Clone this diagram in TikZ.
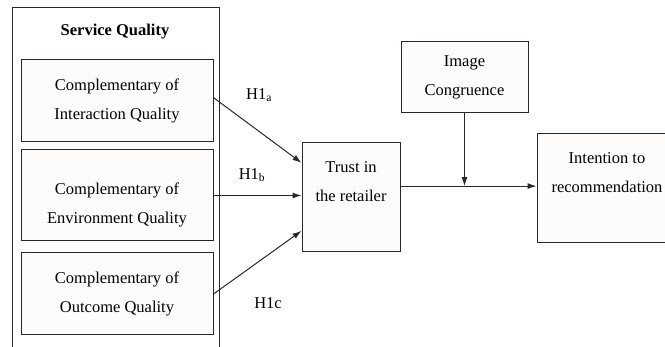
\documentclass[tikz,border=0pt]{standalone}
\usepackage{fontspec}
\setmainfont{Liberation Serif}
\usetikzlibrary{arrows.meta}
\definecolor{plantucolor0001}{RGB}{40,40,40}
\definecolor{plantucolor0002}{RGB}{253,252,250}
\begin{document}
\begin{tikzpicture}[yscale=-1
            ,pstyle0/.style={draw=plantucolor0001,fill=plantucolor0002,line width=1.0pt,inner sep=0pt}
            ,pstyle1/.style={color=plantucolor0001,line width=1.0pt}
            ,pstyle2/.style={color=plantucolor0001,line width=1.0pt,-{Latex[length=9pt,width=6pt]}}
            ,ptext/.style={align=center,text=black,font=\fontsize{16.5}{29}\selectfont}
        ]
        \useasboundingbox (0pt,0pt) rectangle (665pt,347pt);
        \draw[pstyle1] (12pt,350pt) -- (12pt,8pt) -- (219pt,8pt) -- (219pt,350pt);
        \node[ptext,font=\fontsize{16.5}{29}\selectfont\bfseries] (servq) at (115pt,32pt) {Service Quality};
        \node[pstyle0,ptext,minimum width=192pt,minimum height=82pt] (interq) at (117pt,101pt) {Complementary of\\Interaction Quality};
        \node[pstyle0,ptext,minimum width=192pt,minimum height=91pt] (envq) at (117pt,195.5pt) {};
        \node[ptext] at (117pt,204.5pt) {Complementary of\\Environment Quality};
        \node[pstyle0,ptext,minimum width=192pt,minimum height=82pt] (outq) at (117pt,294pt) {Complementary of\\Outcome Quality};
        \node[pstyle0,minimum width=98pt,minimum height=109pt] (trust) at (351pt,197.5pt) {};
        \node[ptext] at (351pt,182pt) {Trust in\\the retailer};
        \node[pstyle0,ptext,minimum width=127pt,minimum height=71pt] (imgcong) at (464.5pt,77.5pt) {Image\\Congruence};
        \node[pstyle0,minimum width=140pt,minimum height=109pt] (intent) at (607pt,188.5pt) {};
        \node[ptext] at (607pt,173pt) {Intention to\\recommendation};
        \draw[pstyle2] (interq.2) -- (trust.145);
        \draw[pstyle2] (envq.east) -- (trust.west |- envq.east);
        \draw[pstyle2] (outq.east) -- (trust.214);
        \draw[pstyle2] (trust.13) -- (trust.13 -| intent.west);
        \draw[pstyle2] (imgcong.south) -- (imgcong.south |- trust.13);
        \node[ptext] (h1a) at (259pt,95pt) {H1\textsubscript{a}};
        \node[ptext] (h1b) at (252pt,175pt) {H1\textsubscript{b}};
        \node[ptext] (h1c) at (268pt,303pt) {H1c};
    \end{tikzpicture}
\end{document}
